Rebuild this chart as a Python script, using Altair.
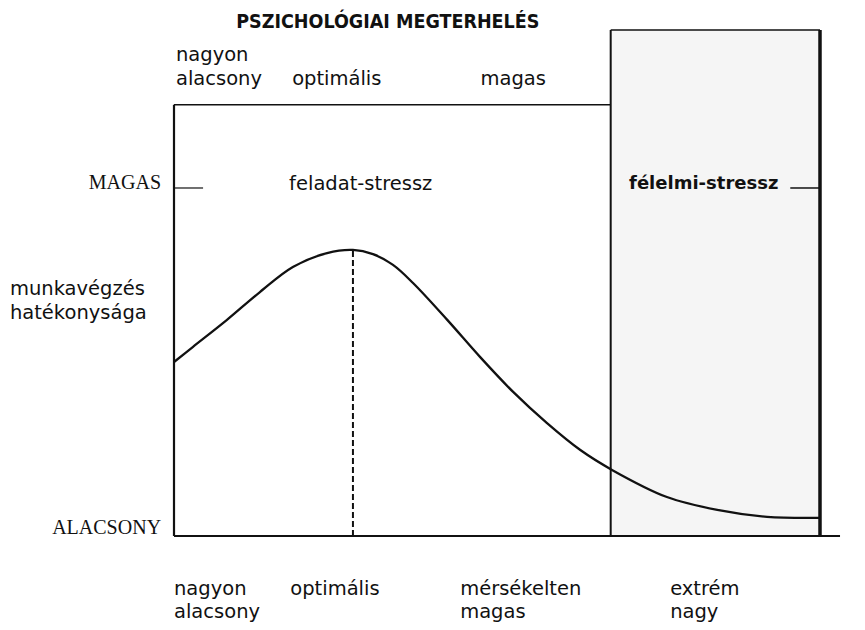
import altair as alt
import pandas as pd

# --- values (load: 0 = left axis, 100 = right edge of extreme box;
#     performance: 0 = ALACSONY baseline, 100 = MAGAS level)
load = [0, 2.9, 8.2, 13.3, 18.4, 23.7, 27.7, 30.8, 33.9, 37.0, 42.3, 47.4,
        52.5, 57.7, 62.9, 67.8, 76.3, 84.1, 91.8, 100.0]
performance = [50.0, 54.3, 62.1, 70.1, 77.3, 81.3, 82.2, 81.0, 77.9, 72.7, 62.1, 51.4,
               41.4, 32.5, 24.7, 19.0, 11.2, 7.5, 5.5, 5.2]

optimum_load = 27.7
optimum_perf = 82.2
extreme_start = 67.6
extreme_end = 100.0
frame_top = 123.9
box_top = 145.4
level_high = 100.0
baseline_end = 103.1

title_text = "PSZICHOLÓGIAI MEGTERHELÉS"
top_labels = ["nagyon", "alacsony", "optimális", "magas"]
bottom_labels = ["nagyon", "alacsony", "optimális", "mérsékelten", "magas", "extrém", "nagy"]
y_labels = ["munkavégzés", "hatékonysága"]
level_labels = ["MAGAS", "ALACSONY"]
zone_labels = ["feladat-stressz", "félelmi-stressz"]

xs = alt.Scale(domain=[-25.697, 105.728], nice=False, zero=False)
ys = alt.Scale(domain=[-24.71, 151.72], nice=False, zero=False)
X = lambda f: alt.X(f, type="quantitative", scale=xs, axis=None)
Y = lambda f: alt.Y(f, type="quantitative", scale=ys, axis=None)

curve_df = pd.DataFrame({"load": load, "perf": performance})

box = alt.Chart(pd.DataFrame({"x": [extreme_start], "x2": [extreme_end], "y": [0], "y2": [box_top]})).mark_rect(
    color="#f5f5f5").encode(x=X("x"), x2="x2", y=Y("y"), y2="y2")

frame_df = pd.DataFrame({
    "x":  [0, 0, 0, extreme_start, extreme_end, extreme_start, 0, extreme_end - 4.6],
    "x2": [0, extreme_start, baseline_end, extreme_start, extreme_end, extreme_end, 4.5, extreme_end],
    "y":  [0, frame_top, 0, 0, 0, box_top, level_high, level_high],
    "y2": [frame_top, frame_top, 0, box_top, box_top, box_top, level_high, level_high],
    "w":  [2.2, 1.5, 2.0, 2.0, 3.5, 1.5, 1.2, 1.5],
})
frame = alt.Chart(frame_df).mark_rule(color="#111111").encode(
    x=X("x"), x2="x2", y=Y("y"), y2="y2", strokeWidth=alt.StrokeWidth("w:Q", scale=None))

dashed = alt.Chart(pd.DataFrame({"x": [optimum_load], "y": [0], "y2": [optimum_perf]})).mark_rule(
    color="#111111", strokeWidth=2, strokeDash=[6, 3]).encode(x=X("x"), y=Y("y"), y2="y2")

curve = alt.Chart(curve_df).mark_line(color="#111111", strokeWidth=2.3, interpolate="catmull-rom").encode(
    x=X("load"), y=Y("perf"))

SANS = "DejaVu Sans"
FS = 19.5

def texts(df, **kw):
    return alt.Chart(df).mark_text(baseline="middle", color="#111111", **kw).encode(
        x=X("x"), y=Y("y"), text="t:N")

title = texts(pd.DataFrame({"t": [title_text], "x": [33.1], "y": [147.7]}),
              font="DejaVu Sans Condensed", fontSize=19.5, fontWeight="bold", align="center")

top_left = texts(pd.DataFrame({"t": top_labels[:2], "x": [0.3, 0.3], "y": [138.2, 131.3]}),
                 font=SANS, fontSize=FS, align="left")
top_center = texts(pd.DataFrame({"t": top_labels[2:], "x": [25.2, 52.5], "y": [131.3, 131.3]}),
                   font=SANS, fontSize=FS, align="center")
bottom = texts(pd.DataFrame({"t": bottom_labels,
                             "x": [0, 0, 18.0, 44.3, 44.3, 76.8, 76.8],
                             "y": [-15.2, -21.8, -15.2, -15.2, -21.8, -15.2, -21.8]}),
               font=SANS, fontSize=FS, align="left")
ylab = texts(pd.DataFrame({"t": y_labels, "x": [-25.4, -25.4], "y": [71.0, 64.1]}),
             font=SANS, fontSize=FS, align="left")
levels = texts(pd.DataFrame({"t": level_labels, "x": [-2.0, -2.0], "y": [101.4, 2.3]}),
               font="Liberation Serif", fontSize=20, align="right")
zone1 = texts(pd.DataFrame({"t": zone_labels[:1], "x": [28.9], "y": [101.1]}),
              font=SANS, fontSize=FS, align="center")
zone2 = texts(pd.DataFrame({"t": zone_labels[1:], "x": [82.0], "y": [101.1]}),
              font=SANS, fontSize=18, fontWeight="bold", align="center")

chart = alt.layer(box, frame, dashed, curve, title, top_left, top_center, bottom, ylab,
                  levels, zone1, zone2).properties(
    width=849, height=614, padding=0, autosize=alt.AutoSizeParams(type="none"),
    background="white"
).configure_view(stroke=None)

chart.save("out.html", embed_options={"renderer": "svg", "actions": False})
